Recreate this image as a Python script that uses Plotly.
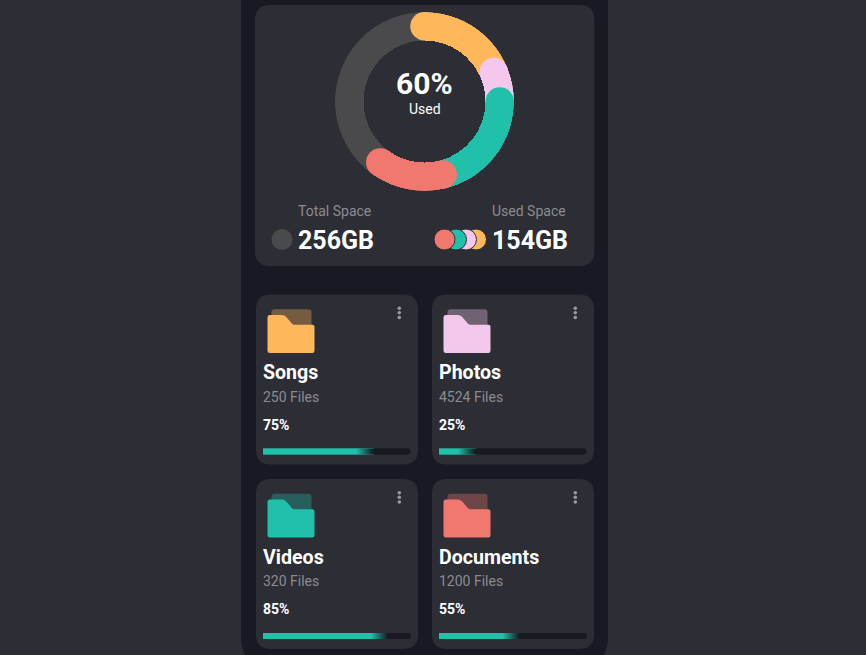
import numpy as np
import plotly.graph_objects as go

# ---------- data ----------
categories = ["Songs", "Photos", "Videos", "Documents"]
file_labels = ["250 Files", "4524 Files", "320 Files", "1200 Files"]
progress = [75, 25, 85, 55]
ring_shares = [18.6, 6.4, 21.1, 13.9]     # % of the ring, Songs..Documents
used_label = "60%"
total_label = "256GB"
used_space_label = "154GB"

# ---------- styles ----------
W, H = 866, 655
PAGE = "#2c2d35"
FRAME = "#181922"
CARD = "#2c2d35"
TRACK = "#181922"
TEAL = "#20c0aa"
GRAY = "#4a4a4c"
MUTED = "#8c8c90"
colors = ["#ffb75c", "#f3c8ec", "#20c0aa", "#f0786e"]
FONT = "Roboto"
card_x = [256, 432, 256, 432]
card_y = [294.5, 294.5, 479, 479]
CARD_W, CARD_H = 162, 170


def rrect(x0, y0, x1, y1, r):
    return (f"M{x0+r},{y0} L{x1-r},{y0} Q{x1},{y0} {x1},{y0+r} L{x1},{y1-r} Q{x1},{y1} {x1-r},{y1} "
            f"L{x0+r},{y1} Q{x0},{y1} {x0},{y1-r} L{x0},{y0+r} Q{x0},{y0} {x0+r},{y0} Z")


def folder_front(x, y):
    return (f"M{x+2.5},{y+20.2} L{x+14},{y+20.2} Q{x+17},{y+20.2} {x+19},{y+22.5} L{x+24.5},{y+29} "
            f"Q{x+25.5},{y+30} {x+27},{y+30} L{x+45},{y+30} Q{x+47},{y+30} {x+47},{y+32} L{x+47},{y+56} "
            f"Q{x+47},{y+58.2} {x+45},{y+58.2} L{x+2.5},{y+58.2} Q{x},{y+58.2} {x},{y+56} L{x},{y+22.5} "
            f"Q{x},{y+20.2} {x+2.5},{y+20.2} Z")


shapes = []


def add_shape(path, color, opacity=1.0):
    shapes.append(dict(type="path", path=path, fillcolor=color, opacity=opacity,
                       line=dict(width=0), xref="x", yref="y", layer="below"))


add_shape(rrect(241, -60, 608, 668, 32), FRAME)
add_shape(rrect(255, 5, 594.5, 266, 15), CARD)

annotations = []


def text(x, y, s, size, color="#ffffff", bold=False, anchor="left"):
    annotations.append(dict(x=x, y=y, xref="x", yref="y", text=s, showarrow=False,
                            xanchor=anchor, yanchor="middle",
                            font=dict(family=FONT, size=size, color=color, weight=700 if bold else 400),
                            borderpad=0, borderwidth=0))


text(424.8, 83.5, used_label, 30, bold=True, anchor="center")
text(424.5, 109, "Used", 14, anchor="center")
text(297.5, 211, "Total Space", 14, MUTED)
text(297.5, 240.5, total_label, 25, bold=True)
text(566, 211, "Used Space", 14, MUTED, anchor="right")
text(491.7, 240.5, used_space_label, 25, bold=True)

fig = go.Figure()

# anchor axis in pixel units, with legend dots and menu dots
dot_x, dot_y = [], []
for i, cx in enumerate(card_x):
    cy = card_y[i]
    add_shape(rrect(cx, cy, cx + CARD_W, cy + CARD_H, 15), CARD)
    fx, fy = cx + 11.5, cy + 0.2
    add_shape(rrect(fx + 4, fy + 14.5, fx + 44, fy + 45, 3), colors[i], 0.34)
    add_shape(folder_front(fx, fy), colors[i])
    tx = cx + 6.5
    text(tx, cy + 78.3, categories[i], 19.6, bold=True)
    text(tx + 0.2, cy + 102.2, file_labels[i], 14, MUTED)
    text(tx, cy + 130.3, f"{progress[i]}%", 14, bold=True)
    for dy in (13.8, 18.3, 23):
        dot_x.append(cx + 143.3)
        dot_y.append(cy + dy)

fig.add_trace(go.Scatter(x=dot_x, y=dot_y, mode="markers", hoverinfo="skip", showlegend=False,
                         marker=dict(size=3.6, color="#9a9a9e", line=dict(width=0))))
fig.add_trace(go.Scatter(x=[282], y=[239.5], mode="markers", hoverinfo="skip", showlegend=False,
                         marker=dict(size=21, color=GRAY, line=dict(width=0))))
fig.add_trace(go.Scatter(x=[476, 466, 456, 444.5], y=[239.5] * 4, mode="markers", hoverinfo="skip",
                         showlegend=False,
                         marker=dict(size=21, color=colors, line=dict(width=1, color=CARD))))

layout_axes = dict(
    xaxis=dict(range=[0, W], domain=[0, 1], visible=False, fixedrange=True),
    yaxis=dict(range=[H, 0], domain=[0, 1], visible=False, fixedrange=True),
)

# progress bars: one small pair of axes per card
FADE = 12
for i, v in enumerate(progress):
    n = i + 2
    x0 = card_x[i] + 6.8
    x1 = x0 + 148
    y0 = card_y[i] + 153.7
    y1 = y0 + 6.5
    layout_axes[f"xaxis{n}"] = dict(domain=[x0 / W, x1 / W], range=[0, 100], visible=False,
                                    fixedrange=True, anchor=f"y{n}")
    layout_axes[f"yaxis{n}"] = dict(domain=[1 - y1 / H, 1 - y0 / H], range=[-0.5, 0.5], visible=False,
                                    fixedrange=True, anchor=f"x{n}")
    fig.add_trace(go.Bar(x=[100], y=[0], orientation="h", xaxis=f"x{n}", yaxis=f"y{n}", width=1,
                         marker=dict(color=TRACK, cornerradius=3, line=dict(width=0)),
                         hoverinfo="skip", showlegend=False))
    fig.add_trace(go.Bar(x=[v], y=[0], orientation="h", xaxis=f"x{n}", yaxis=f"y{n}", width=1,
                         marker=dict(color=TEAL, cornerradius=3, line=dict(width=0)),
                         hoverinfo="skip", showlegend=False))
    fig.add_trace(go.Scatter(x=[v - FADE, v + 0.5, v + 0.5, v - FADE, v - FADE],
                             y=[-0.5, -0.5, 0.5, 0.5, -0.5],
                             xaxis=f"x{n}", yaxis=f"y{n}", mode="none", fill="toself",
                             fillgradient=dict(type="horizontal",
                                               colorscale=[[0, "rgba(24,25,34,0)"], [0.92, "rgba(24,25,34,1)"],
                                                           [1, "rgba(24,25,34,1)"]]),
                             hoverinfo="skip", showlegend=False))

# donut: grey full ring, then arcs with a round cap at each start and at the last end
INNER, OUTER = 61, 89.5
degrees = np.array(ring_shares) * 3.6
starts = np.concatenate([[0], np.cumsum(degrees)[:-1]])
ends = starts + degrees
fig.add_trace(go.Barpolar(r=[OUTER - INNER], base=[INNER], theta=[180], width=[360],
                          marker=dict(color=GRAY, line=dict(width=0)), hoverinfo="skip", showlegend=False))
fig.add_trace(go.Barpolar(r=[OUTER - INNER] * 4, base=[INNER] * 4, theta=(starts + ends) / 2, width=degrees,
                          marker=dict(color=colors, line=dict(width=0)), hoverinfo="skip", showlegend=False))
cap_theta = list(starts) + [ends[-1]]
cap_color = colors + [colors[-1]]
fig.add_trace(go.Scatterpolar(r=[(INNER + OUTER) / 2] * 5, theta=cap_theta, mode="markers",
                              marker=dict(size=OUTER - INNER, color=cap_color, line=dict(width=0)),
                              hoverinfo="skip", showlegend=False))

CX, CY = 424.5, 101.5
fig.update_layout(
    width=W, height=H, margin=dict(l=0, r=0, t=0, b=0), autosize=False,
    paper_bgcolor=PAGE, plot_bgcolor="rgba(0,0,0,0)", showlegend=False,
    barmode="overlay", bargap=0,
    shapes=shapes, annotations=annotations,
    polar=dict(domain=dict(x=[(CX - OUTER) / W, (CX + OUTER) / W], y=[1 - (CY + OUTER) / H, 1 - (CY - OUTER) / H]),
               bgcolor="rgba(0,0,0,0)", barmode="overlay", bargap=0,
               radialaxis=dict(range=[0, OUTER], visible=False),
               angularaxis=dict(rotation=90, direction="clockwise", visible=False)),
    font=dict(family=FONT),
    **layout_axes,
)

fig.write_html("out.html", config=dict(displayModeBar=False, staticPlot=True),
               post_script="document.body.style.margin='0';document.body.style.overflow='hidden';")
